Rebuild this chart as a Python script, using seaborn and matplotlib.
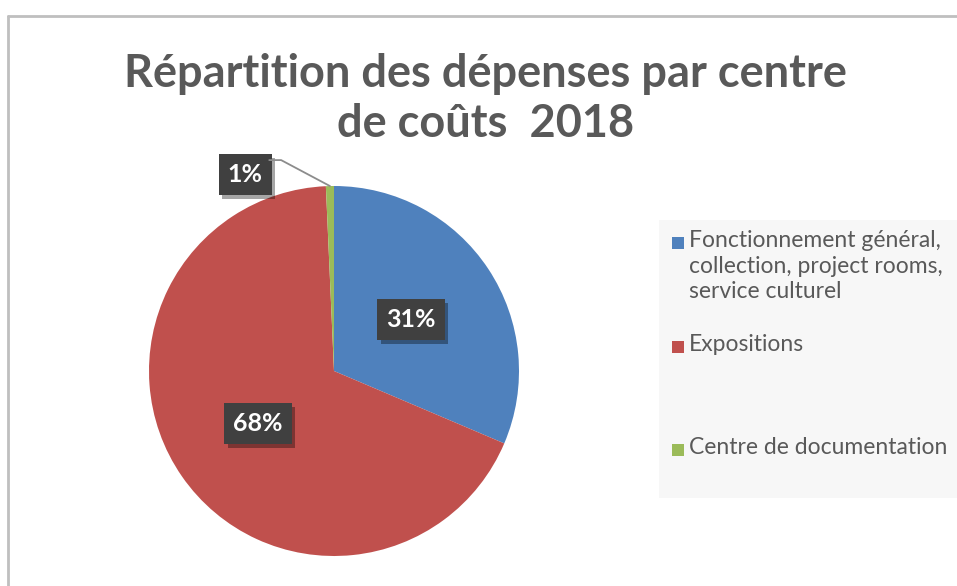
import matplotlib
matplotlib.use('Agg')
import numpy as np
import matplotlib.pyplot as plt
import matplotlib.patheffects as pe
from matplotlib.patches import Rectangle
from matplotlib.lines import Line2D
import seaborn as sns

# données
categories = ['Fonctionnement général,\ncollection, project rooms,\nservice culturel',
              'Expositions',
              'Centre de documentation']
values = [31.4, 67.9, 0.7]
colors = ['#4F81BD', '#C0504D', '#9BBB59']
title = 'Répartition des dépenses par centre\nde coûts  2018'

sns.set_theme(style='white')
plt.rcParams['font.family'] = ['Lato', 'DejaVu Sans']

W, H = 957, 586
fig = plt.figure(figsize=(W / 100, H / 100), dpi=100)
fig.patch.set_facecolor('white')

# cadre gris (haut + gauche)
fig.add_artist(Line2D([8 / W, 1], [1 - 16 / H, 1 - 16 / H], color='#bfbfbf', lw=2))
fig.add_artist(Line2D([8 / W, 8 / W], [0, 1 - 16 / H], color='#bfbfbf', lw=2))

# fond de la légende
fig.add_artist(Rectangle((659 / W, 1 - 498 / H), (W - 659) / W, 278 / H,
                         transform=fig.transFigure, fc='#f7f7f7', ec='none', zorder=0))

# titre
fig.text(0.507, 1 - 99 / H, title, ha='center', va='center', fontsize=32.5,
         fontweight='bold', color='#595959', linespacing=1.25)

# camembert
cx, cy, r = 334, 371, 185
ax = fig.add_axes([(cx - r) / W, (H - cy - r) / H, 2 * r / W, 2 * r / H])
wedges, texts, autotexts = ax.pie(values, colors=colors, startangle=90, counterclock=False,
                                  autopct=lambda p: f'{p:.0f}%', pctdistance=0.5,
                                  wedgeprops=dict(linewidth=0))
ax.set_xlim(-1, 1)
ax.set_ylim(-1, 1)
ax.axis('off')

for t in autotexts:
    t.set_color('white')
    t.set_fontweight('bold')
    t.set_fontsize(18)
    t.set_bbox(dict(boxstyle='square,pad=0.36', fc='#404040', ec='none'))
    t.get_bbox_patch().set_path_effects([
        pe.withSimplePatchShadow(offset=(2.5, -2.5), shadow_rgbFace='black', alpha=0.35),
        pe.Normal()])

# petite part : étiquette déportée avec trait de rappel
small = autotexts[2]
small.set_position((-0.48, 1.06))
w = wedges[2]
mid = np.deg2rad((w.theta1 + w.theta2) / 2)
ax.annotate('', xy=(np.cos(mid), np.sin(mid)), xytext=(-0.35, 1.14),
            arrowprops=dict(arrowstyle='-', color='#8c8c8c', lw=1.3,
                            connectionstyle='angle,angleA=0,angleB=-28,rad=0',
                            shrinkA=0, shrinkB=0),
            annotation_clip=False)

# légende
leg_y = [243, 347, 450]
for lab, col, y in zip(categories, colors, leg_y):
    fig.add_artist(Rectangle((672 / W, 1 - (y + 6) / H), 12 / W, 12 / H,
                             transform=fig.transFigure, fc=col, ec='none'))
    fig.text(689 / W, 1 - (y - 13) / H, lab, ha='left', va='top', fontsize=16.5,
             color='#595959', linespacing=1.27)

fig.savefig('out.png', dpi=100)
